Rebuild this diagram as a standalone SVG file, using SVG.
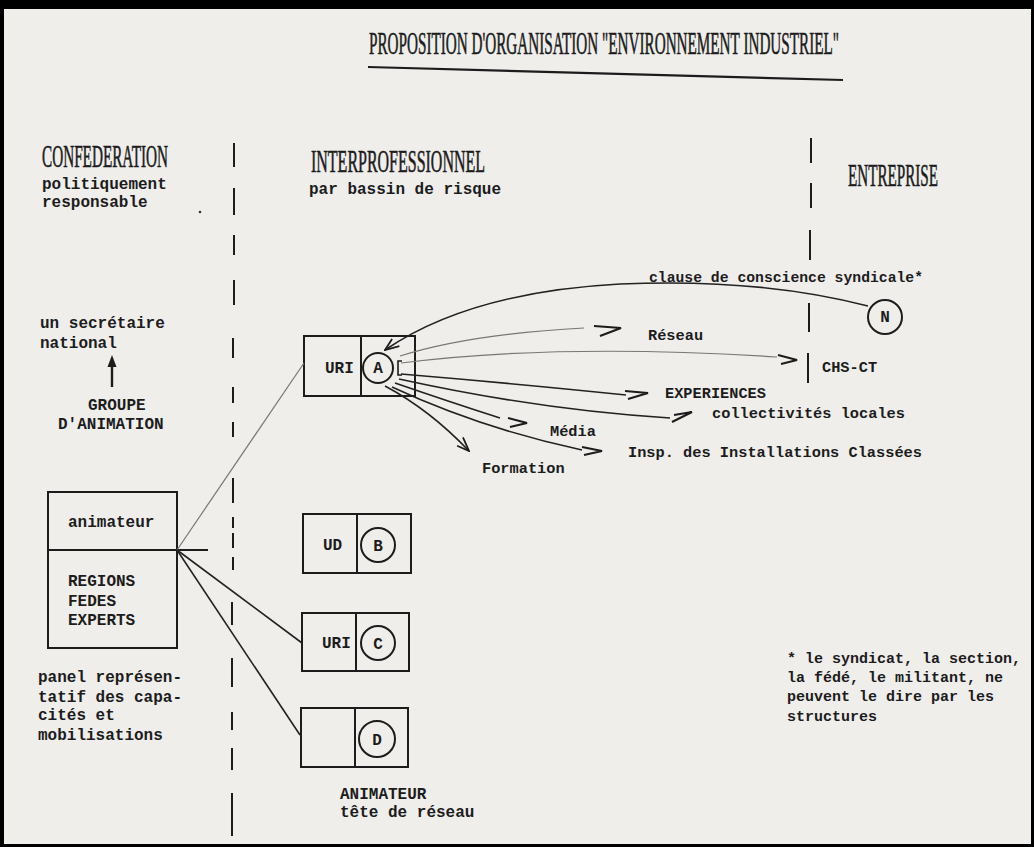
<svg xmlns="http://www.w3.org/2000/svg" width="1034" height="847" viewBox="0 0 1034 847">
<defs>
<style>
.mono{font-family:"Liberation Mono","DejaVu Sans Mono",monospace;font-weight:bold;fill:#1c1c1c;font-size:16px}
.sm{font-size:15.3px}
.fn{font-size:15px}
.head{font-family:"Liberation Serif","DejaVu Serif",serif;fill:#1c1c1c;font-size:31px;stroke:#1c1c1c;stroke-width:0.6}
.box{fill:none;stroke:#1c1c1c;stroke-width:2}
.ln{fill:none;stroke:#222;stroke-width:1.6}
.lt{fill:none;stroke:#777;stroke-width:1.2}
.dash{fill:none;stroke:#1c1c1c;stroke-width:2}
.ctr{text-anchor:middle}
.hd{fill:none;stroke:#1c1c1c;stroke-width:2}
</style>
<marker id="chev" viewBox="0 0 16 12" refX="15" refY="6" markerWidth="16" markerHeight="12" markerUnits="userSpaceOnUse" orient="auto">
<path d="M1,1 L15,6 L3,11" fill="none" stroke="#1c1c1c" stroke-width="1.8"/>
</marker>
</defs>
<rect width="1034" height="847" fill="#000"/>
<rect x="4" y="9" width="1027" height="835" fill="#efeeeb"/>

<g id="title">
<text class="head" x="369" y="54" textLength="470" lengthAdjust="spacingAndGlyphs" font-size="30">PROPOSITION D'ORGANISATION "ENVIRONNEMENT INDUSTRIEL"</text>
<line x1="368" y1="67" x2="843" y2="80" stroke="#1c1c1c" stroke-width="2.2"/>
</g>

<g id="separators">
<path class="dash" d="M234,143 V167 M234,188 V215 M234,235 V255 M234,280 V305 M233,338 V358 M233,387 V403 M233,422 V437 M233,478 V503 M233,517 V528 M233,533 V548 M233,557 V570 M232,602 V625 M232,658 V687 M232,712 V730 M232,748 V770 M232,793 V836"/>
<path class="dash" d="M811,138 V163 M811,183 V208 M810,230 V260 M809,303 V332 M808,353 V383"/>
</g>

<g id="col-confederation">
<text class="head" x="42" y="167" textLength="126" lengthAdjust="spacingAndGlyphs">CONFEDERATION</text>
<text class="mono" x="42" y="189">politiquement</text>
<text class="mono" x="42" y="207">responsable</text>
<circle cx="200" cy="212" r="1.3" fill="#333"/>
</g>

<g id="col-interpro">
<text class="head" x="311" y="172" textLength="174" lengthAdjust="spacingAndGlyphs">INTERPROFESSIONNEL</text>
<text class="mono" x="309" y="194">par bassin de risque</text>
</g>

<g id="col-entreprise">
<text class="head" x="848" y="186" textLength="90" lengthAdjust="spacingAndGlyphs" font-size="29">ENTREPRISE</text>
</g>

<g id="secretaire">
<text class="mono" x="40" y="328">un secrétaire</text>
<text class="mono" x="40" y="348">national</text>
</g>

<g id="groupe">
<text class="mono" x="88" y="410">GROUPE</text>
<text class="mono" x="58" y="429">D'ANIMATION</text>
</g>

<g id="animateur-box">
<rect class="box" x="48" y="492" width="129" height="156"/>
<line x1="48" y1="550" x2="208" y2="550" stroke="#1c1c1c" stroke-width="2"/>
<text class="mono" x="68" y="527">animateur</text>
<text class="mono" x="68" y="586">REGIONS</text>
<text class="mono" x="68" y="606">FEDES</text>
<text class="mono" x="68" y="625">EXPERTS</text>
</g>

<g id="panel">
<text class="mono" x="38" y="682">panel représen-</text>
<text class="mono" x="38" y="702">tatif des capa-</text>
<text class="mono" x="38" y="720">cités et</text>
<text class="mono" x="38" y="740">mobilisations</text>
</g>

<g id="node-A">
<rect class="box" x="304" y="336" width="111" height="60"/>
<line x1="361" y1="336" x2="361" y2="396" stroke="#1c1c1c" stroke-width="2"/>
<text class="mono" x="325" y="373">URI</text>
<circle cx="378" cy="368" r="15" fill="none" stroke="#1c1c1c" stroke-width="2"/>
<text class="mono ctr" x="378" y="373">A</text>
<path d="M402,361 H398 V375 H402" fill="none" stroke="#1c1c1c" stroke-width="1.6"/>
</g>

<g id="node-B">
<rect class="box" x="303" y="514" width="108" height="59"/>
<line x1="357" y1="514" x2="357" y2="573" stroke="#1c1c1c" stroke-width="2"/>
<text class="mono" x="323" y="550">UD</text>
<circle cx="378" cy="545" r="17" fill="none" stroke="#1c1c1c" stroke-width="2"/>
<text class="mono ctr" x="378" y="551">B</text>
</g>

<g id="node-C">
<rect class="box" x="302" y="613" width="107" height="58"/>
<line x1="356" y1="613" x2="356" y2="671" stroke="#1c1c1c" stroke-width="2"/>
<text class="mono" x="322" y="648">URI</text>
<circle cx="378" cy="643" r="17" fill="none" stroke="#1c1c1c" stroke-width="2"/>
<text class="mono ctr" x="378" y="649">C</text>
</g>

<g id="node-D">
<rect class="box" x="301" y="708" width="107" height="59"/>
<line x1="355" y1="708" x2="355" y2="767" stroke="#1c1c1c" stroke-width="2"/>
<circle cx="377" cy="739" r="18" fill="none" stroke="#1c1c1c" stroke-width="2"/>
<text class="mono ctr" x="377" y="745">D</text>
<text class="mono" x="340" y="799">ANIMATEUR</text>
<text class="mono" x="340" y="817">tête de réseau</text>
</g>

<g id="node-N">
<circle cx="885" cy="317" r="17" fill="none" stroke="#1c1c1c" stroke-width="2"/>
<text class="mono ctr" x="885" y="322" font-size="14">N</text>
</g>

<g id="labels">
<text class="mono fn" x="649" y="282" textLength="274" lengthAdjust="spacingAndGlyphs">clause de conscience syndicale*</text>
<text class="mono sm" x="648" y="340">Réseau</text>
<text class="mono sm" x="822" y="372">CHS-CT</text>
<text class="mono sm" x="665" y="398">EXPERIENCES</text>
<text class="mono sm" x="712" y="418" textLength="193" lengthAdjust="spacingAndGlyphs">collectivités locales</text>
<text class="mono sm" x="550" y="436">Média</text>
<text class="mono sm" x="628" y="457" textLength="294" lengthAdjust="spacingAndGlyphs">Insp. des Installations Classées</text>
<text class="mono sm" x="482" y="473">Formation</text>
</g>

<g id="footnote">
<text class="mono fn" x="787" y="663">* le syndicat, la section,</text>
<text class="mono fn" x="787" y="682">la fédé, le militant, ne</text>
<text class="mono fn" x="787" y="701">peuvent le dire par les</text>
<text class="mono fn" x="787" y="721">structures</text>
</g>

<g id="connectors">
<line x1="112" y1="387" x2="112" y2="364" stroke="#1c1c1c" stroke-width="2.4"/>
<polygon points="107.5,367 112,355 116.5,367" fill="#1c1c1c"/>
<line class="lt" x1="177" y1="550" x2="304" y2="363"/>
<line class="ln" x1="177" y1="550" x2="302" y2="643" stroke-width="1.3"/>
<line class="ln" x1="177" y1="550" x2="300" y2="735" stroke-width="1.2"/>
<path class="ln" d="M868,306 Q760,278 620,284 Q470,292 385,350" stroke-width="2" marker-end="url(#chev)"/>
<path class="lt" d="M400,356 Q470,334 584,328"/>
<path class="hd" d="M594,326 L621,328 L600,336"/>
<path class="lt" d="M401,363 Q560,343 777,357"/>
<path class="hd" d="M778,355 L797,360 L781,364"/>
<path class="ln" d="M401,374 Q520,384 626,395" stroke-width="2"/>
<path class="hd" d="M625,391 L648,393 L628,399"/>
<path class="ln" d="M399,379 Q540,410 670,418" stroke-width="1.3"/>
<path class="hd" d="M674,415 L692,412 L672,422"/>
<path class="ln" d="M395,383 Q450,402 500,418" stroke-width="1.3"/>
<path class="hd" d="M508,418 L527,423 L510,427"/>
<path class="ln" d="M392,387 Q480,428 582,450" stroke-width="1.5"/>
<path class="hd" d="M582,447 L602,451 L584,455"/>
<path class="ln" d="M385,386 Q430,410 469,451" stroke-width="2" marker-end="url(#chev)"/>
</g>
</svg>
